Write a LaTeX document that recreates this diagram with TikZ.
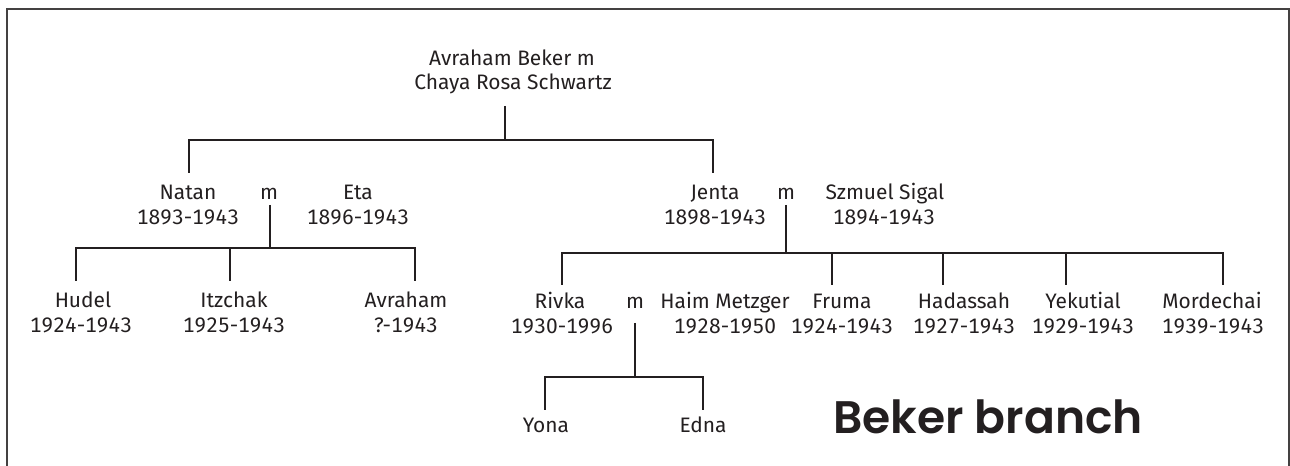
\documentclass[tikz,border=0pt]{standalone}
\usepackage{fontspec}
\setmainfont{Fira Sans}[Numbers=Monospaced]
\newfontfamily\titlefont{Poppins SemiBold}
\usepackage{tikz}

\definecolor{ink}{HTML}{231F20}

\tikzset{
  person/.style={anchor=base, inner sep=0pt, text=ink, font=\fontsize{15.7}{19}\selectfont},
  line/.style={draw=ink, line width=1.6pt},
  frameline/.style={draw=ink!85, line width=1.5pt}
}

\begin{document}
\begin{tikzpicture}[x=0.75pt,y=0.75pt,yscale=-1,xscale=1]

            \useasboundingbox (0,0) rectangle (1290,466);

            % Frame (open at the bottom)
            \draw [frameline] (7,466) -- (7,9) -- (1288.5,9) -- (1288.5,466);

            % Founders
            \node [person] (root1) at (512,66) {Avraham Beker m};
            \node [person] (root2) at (513,90) {Chaya Rosa Schwartz};

            % Children of the founders
            \node [person] (natan)   at (188,200) {Natan};
            \node [person] (natanyr) at (188,225) {1893-1943};
            \node [person] (m1)      at (269,200) {m};
            \node [person] (eta)     at (358,200) {Eta};
            \node [person] (etayr)   at (358,225) {1896-1943};

            \node [person] (jenta)    at (715,200) {Jenta};
            \node [person] (jentayr)  at (715,225) {1898-1943};
            \node [person] (m2)       at (786,200) {m};
            \node [person] (szmuel)   at (885,200) {Szmuel Sigal};
            \node [person] (szmuelyr) at (884,225) {1894-1943};

            % Children of Natan and Eta
            \node [person] (hudel)     at (83,308)  {Hudel};
            \node [person] (hudelyr)   at (81,333)  {1924-1943};
            \node [person] (itzchak)   at (234,308) {Itzchak};
            \node [person] (itzchakyr) at (234,333) {1925-1943};
            \node [person] (avraham)   at (406,308) {Avraham};
            \node [person] (avrahamyr) at (406,333) {?-1943};

            % Children of Jenta and Szmuel
            \node [person] (rivka)      at (560,309)  {Rivka};
            \node [person] (rivkayr)    at (562,334)  {1930-1996};
            \node [person] (m3)         at (635,309)  {m};
            \node [person] (haim)       at (725,309)  {Haim Metzger};
            \node [person] (haimyr)     at (725,334)  {1928-1950};
            \node [person] (fruma)      at (842,309)  {Fruma};
            \node [person] (frumayr)    at (842,334)  {1924-1943};
            \node [person] (hadassah)   at (964,309)  {Hadassah};
            \node [person] (hadassahyr) at (964,334)  {1927-1943};
            \node [person] (yekutial)   at (1083,309) {Yekutial};
            \node [person] (yekutialyr) at (1083,334) {1929-1943};
            \node [person] (mordechai)  at (1212,309) {Mordechai};
            \node [person] (mordechaiyr) at (1213,334) {1939-1943};

            % Children of Rivka and Haim
            \node [person] (yona) at (546,433) {Yona};
            \node [person] (edna) at (703,433) {Edna};

            % Title
            \node [anchor=base west, inner sep=0pt, text=ink, font=\titlefont\fontsize{34.2}{40}\selectfont] (title) at (833,434) {Beker branch};

            % Joints
            \coordinate (rootstem) at (505,106);
            \coordinate (rootbar)  at (505,140);
            \coordinate (natandrop) at (189,173);
            \coordinate (jentadrop) at (713,173);

            \coordinate (natanstem) at (270,205);
            \coordinate (natanbar)  at (270,248);
            \coordinate (hudeldrop)   at (76,281);
            \coordinate (itzchakdrop) at (230,281);
            \coordinate (avrahamdrop) at (415,281);

            \coordinate (jentastem) at (786,205);
            \coordinate (jentabar)  at (786,253);
            \coordinate (rivkadrop)     at (562,285);
            \coordinate (frumadrop)     at (832,285);
            \coordinate (hadassahdrop)  at (943,285);
            \coordinate (yekutialdrop)  at (1066,285);
            \coordinate (mordechaidrop) at (1223,285);

            \coordinate (rivkastem) at (635,323);
            \coordinate (rivkabar)  at (635,377);
            \coordinate (yonadrop) at (545,410);
            \coordinate (ednadrop) at (703,410);

            % Lines
            \draw [line] (rootstem) -- (rootbar);
            \draw [line] (natandrop) |- (rootbar) -| (jentadrop);

            \draw [line] (natanstem) -- (natanbar);
            \draw [line] (hudeldrop) |- (natanbar) -| (avrahamdrop);
            \draw [line] (itzchakdrop) -- (itzchakdrop |- natanbar);

            \draw [line] (jentastem) -- (jentabar);
            \draw [line] (rivkadrop) |- (jentabar) -| (mordechaidrop);
            \draw [line] (frumadrop) -- (frumadrop |- jentabar);
            \draw [line] (hadassahdrop) -- (hadassahdrop |- jentabar);
            \draw [line] (yekutialdrop) -- (yekutialdrop |- jentabar);

            \draw [line] (rivkastem) -- (rivkabar);
            \draw [line] (yonadrop) |- (rivkabar) -| (ednadrop);

            \end{tikzpicture}
\end{document}
